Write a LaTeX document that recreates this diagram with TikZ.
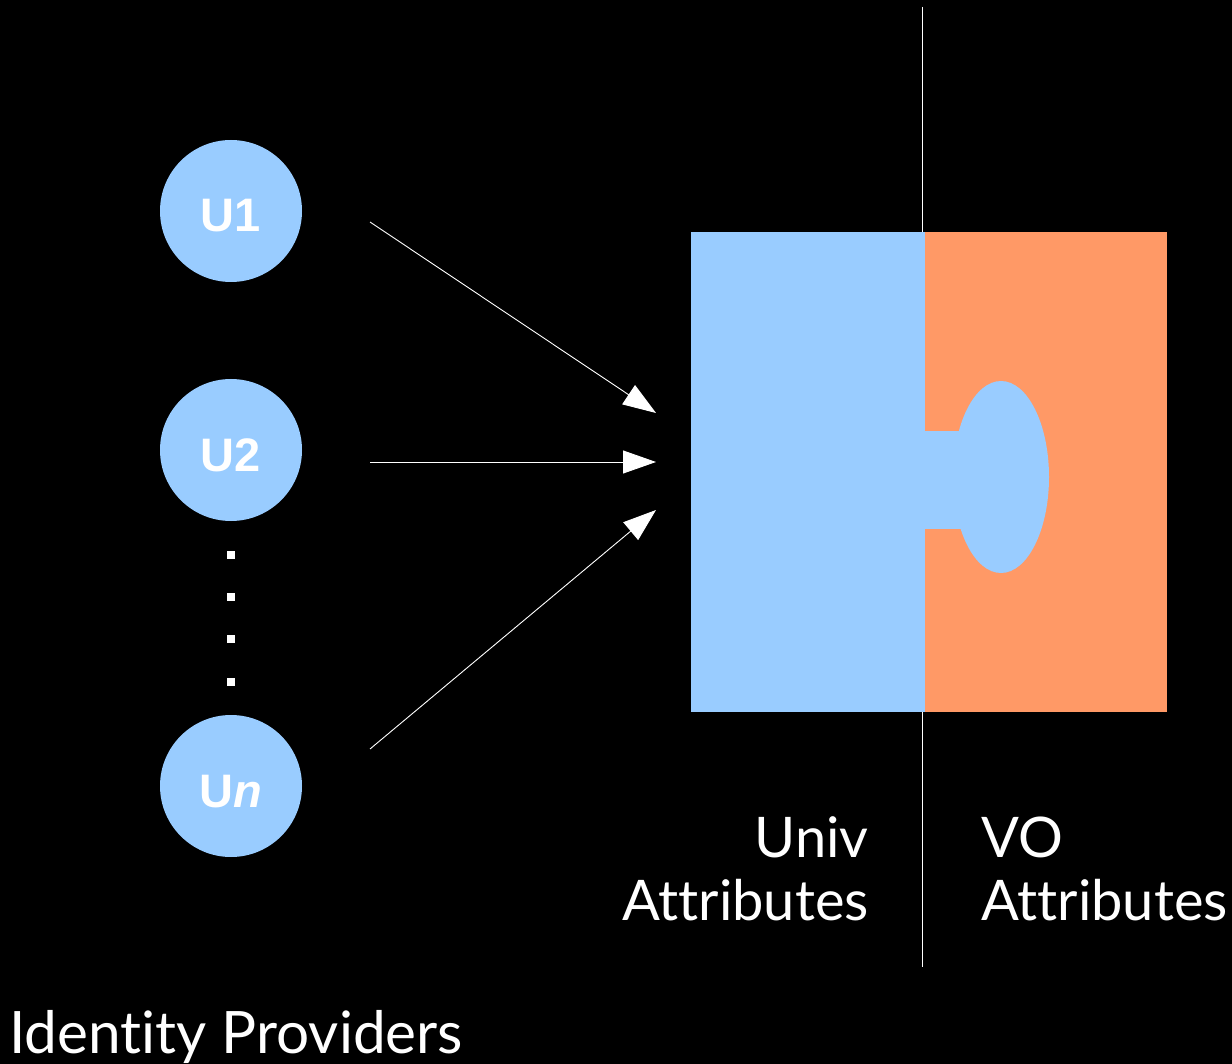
\documentclass[tikz,border=0pt]{standalone}
\usepackage{fontspec}
\setmainfont{Lato}[Ligatures={NoCommon}]
\newfontfamily\circfont{Liberation Sans}
\usetikzlibrary{arrows.meta}
\definecolor{ublue}{HTML}{99CCFF}
\definecolor{vorange}{HTML}{FF9966}
\newcommand{\circlbl}[1]{\raisebox{-21pt}[0pt][0pt]{#1}}
\begin{document}
\begin{tikzpicture}[x=1pt,y=-1pt,
  idp/.style={circle,fill=ublue,minimum size=142pt,inner sep=0pt,text=white,font=\circfont\bfseries\fontsize{47}{50}\selectfont},
  link/.style={draw=white,line width=0.9pt,-{Triangle[length=33pt,width=23pt]}},
  lbl/.style={text=white,font=\fontsize{56}{63}\selectfont,inner sep=0pt},
  dotsq/.style={fill=white,minimum size=8pt,inner sep=0pt}]
\fill[black] (0,0) rectangle (1232,1064);
\useasboundingbox (0,0) rectangle (1232,1064);
% divider
\coordinate (dtop) at (922,7);
\coordinate (dbot) at (922,967);
\draw[white,line width=1pt] (dtop) -- (dbot);
% blocks
\fill[ublue] (691,232) rectangle (925,712);
\fill[vorange] (925,232) rectangle (1167,712);
\fill[ublue] (924,431) rectangle (975,529);
\fill[ublue] (1001,477) ellipse [x radius=48, y radius=96];
% identity providers
\node[idp] (u1) at (231,211) {\circlbl{U1}};
\node[idp] (u2) at (231,450) {\circlbl{U2}};
\node[idp] (un) at (231,786) {\circlbl{U\textit{n}}};
\node[dotsq] (d1) at (231,555) {};
\node[dotsq] (d2) at (231,597) {};
\node[dotsq] (d3) at (231,639) {};
\node[dotsq] (d4) at (231,682) {};
% arrows
\coordinate (s1) at (370,222);
\coordinate (s2) at (370,462);
\coordinate (s3) at (370,749);
\coordinate (e1) at (656,413);
\coordinate (e2) at (656,462);
\coordinate (e3) at (656,510);
\draw[link] (s1) -- (e1);
\draw[link] (s2) -- (e2);
\draw[link] (s3) -- (e3);
% labels
\node[lbl,anchor=base east] (univ) at (869,857) {Univ};
\node[lbl,anchor=base east] (uattr) at (869,920) {Attributes};
\node[lbl,anchor=base west] (vo) at (981,857) {VO};
\node[lbl,anchor=base west] (vattr) at (981,920) {Attributes};
\node[lbl,anchor=base west,font=\fontsize{58.5}{63}\selectfont] (idps) at (9,1053) {Identity Providers};
\end{tikzpicture}
\end{document}
